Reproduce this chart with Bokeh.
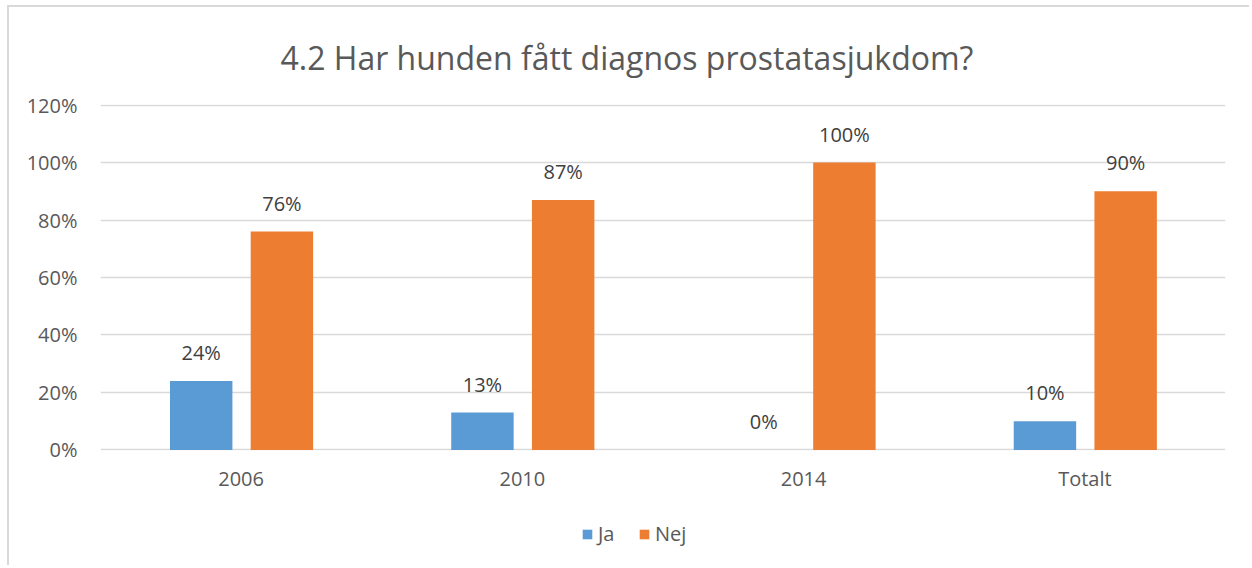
from bokeh.plotting import figure
from bokeh.layouts import column
from bokeh.models import ColumnDataSource, FactorRange, Range1d, Legend, LegendItem, FixedTicker, CustomJSTickFormatter, LabelSet
from bokeh.transform import dodge
from bokeh.core.properties import value
from bokeh.embed import file_html
from bokeh.resources import INLINE

categories = ["2006", "2010", "2014", "Totalt"]
ja = [24, 13, 0, 10]
nej = [76, 87, 100, 90]
ja_labels = ["24%", "13%", "0%", "10%"]
nej_labels = ["76%", "87%", "100%", "90%"]
y_ticks = [0, 20, 40, 60, 80, 100, 120]
title_text = "4.2 Har hunden fått diagnos prostatasjukdom?"

FONT = "Open Sans"
BLUE = "#5b9bd5"
ORANGE = "#ed7d31"
JA_OFF, NEJ_OFF, BAR_W = -0.142, 0.145, 0.222

src = ColumnDataSource(dict(cat=categories, ja=ja, nej=nej, jal=ja_labels, nejl=nej_labels))

OX, OY = 9, 7          # canvas origin after CSS margin + border
W = 1252 - OX - 3
SPLIT = 500
H1 = SPLIT - OY
H2 = 568 - SPLIT - 3

p = figure(x_range=FactorRange(*categories, range_padding=0), y_range=Range1d(-0.2, 120.2),
           width=W, height=H1, output_backend="svg", toolbar_location=None,
           min_border_left=100 - OX, min_border_right=W - (1225 - OX), min_border_top=104 - OY,
           min_border_bottom=H1 - (450 - OY))
p.outline_line_color = None
p.border_fill_color = "white"

p.title.text = title_text
p.title.align = "left"
p.title.vertical_align = "top"
p.title.offset = 180
p.title.standoff = 48
p.title.text_font = FONT
p.title.text_font_size = "32px"
p.title.text_font_style = "normal"
p.title.text_color = "#595959"

p.vbar(x=dodge("cat", JA_OFF, range=p.x_range), top="ja", width=BAR_W, source=src,
       color=BLUE, line_color=None)
p.vbar(x=dodge("cat", NEJ_OFF, range=p.x_range), top="nej", width=BAR_W, source=src,
       color=ORANGE, line_color=None)

for col, lab, off in (("ja", "jal", JA_OFF), ("nej", "nejl", NEJ_OFF)):
    ls = LabelSet(x=dodge("cat", off, range=p.x_range), y=col, text=lab, source=src,
                  text_align="center", text_baseline="bottom", y_offset=15,
                  text_font=value(FONT), text_font_size=value("20px"), text_color=value("#404040"))
    p.add_layout(ls)

p.yaxis.ticker = FixedTicker(ticks=y_ticks)
p.yaxis.formatter = CustomJSTickFormatter(code="return tick + '%';")
for ax in (p.xaxis, p.yaxis):
    ax.axis_line_color = None
    ax.major_tick_line_color = None
    ax.minor_tick_line_color = None
    ax.major_label_text_font = FONT
    ax.major_label_text_font_size = "20px"
    ax.major_label_text_color = "#595959"
p.yaxis.major_label_standoff = 17
p.xaxis.major_label_standoff = 8
p.xgrid.grid_line_color = None
p.ygrid.grid_line_color = "#d9d9d9"
p.ygrid.grid_line_width = 1.3
p.ygrid.ticker = FixedTicker(ticks=y_ticks)

# legend strip (its bars sit outside its visible range; only the legend shows)
lp = figure(x_range=FactorRange(*categories, range_padding=0), y_range=Range1d(500, 600),
            width=W, height=H2, output_backend="svg", toolbar_location=None,
            x_axis_type=None, y_axis_type=None, min_border=0)
lp.outline_line_color = None
lp.grid.grid_line_color = None
l1 = lp.vbar(x=dodge("cat", JA_OFF, range=lp.x_range), top="ja", width=BAR_W, source=src,
             color=BLUE, line_color=None)
l2 = lp.vbar(x=dodge("cat", NEJ_OFF, range=lp.x_range), top="nej", width=BAR_W, source=src,
             color=ORANGE, line_color=None)
legend = Legend(items=[LegendItem(label="Ja", renderers=[l1]), LegendItem(label="Nej", renderers=[l2])],
                orientation="horizontal", location=(481, 18), background_fill_alpha=0,
                border_line_color=None, glyph_width=12, glyph_height=12, label_standoff=5,
                spacing=20, padding=0, margin=0, label_text_font=FONT, label_text_font_size="20px",
                label_text_color="#595959")
lp.add_layout(legend)

layout = column(p, lp, spacing=0,
                styles={"margin-left": "7px", "margin-top": "5px",
                        "border-left": "2px solid #d9d9d9", "border-top": "2px solid #d9d9d9"})

open("out.html", "w").write(file_html(layout, INLINE))
